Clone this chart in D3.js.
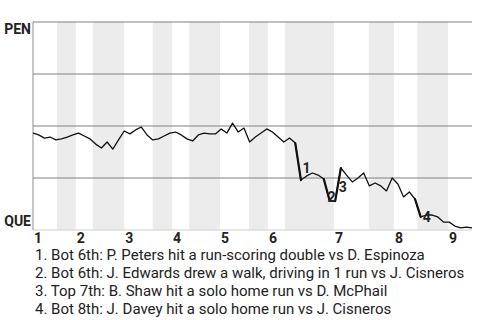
<!doctype html>
<html lang="en">
<head>
<meta charset="utf-8">
<title>Win probability</title>
<script src="https://cdn.jsdelivr.net/npm/d3@7"></script>
<style>
  body { margin: 0; background: #fff; }
  svg text { font-family: Roboto, "Noto Sans", sans-serif; fill: #222; }
  .inn { font-size: 14px; font-weight: bold; }
  .team { font-size: 14px; font-weight: bold; }
  .note { font-size: 15px; }
  .evt { font-size: 14px; font-weight: bold; }
</style>
</head>
<body>
<svg id="chart" width="480" height="320"></svg>
<script>
// PEN win probability (%) after each plate appearance
var penWinPct = [
  46.6, 45.7, 44.2, 44.7, 43.3, 43.8, 44.7, 45.7, 46.6, 45.2,
  43.8, 41.3, 39.4, 42.3, 38.9, 43.3, 47.6, 46.2, 48.1, 49.5,
  45.7, 43.3, 43.8, 45.2, 46.6, 47.1, 45.7, 43.8, 42.8, 45.7,
  46.6, 46.2, 46.2, 48.6, 46.6, 51.4, 47.1, 49.0, 42.3, 44.7,
  46.6, 48.6, 47.1, 44.7, 42.3, 44.2, 41.8, 24.0, 26.0, 27.4,
  26.4, 24.5, 14.4, 13.9, 29.8, 26.4, 23.1, 25.0, 27.4, 21.2,
  22.6, 21.2, 18.8, 25.0, 22.1, 15.9, 18.3, 14.9, 6.3, 7.2,
  7.2, 6.3, 3.8, 3.8, 1.9, 1.0, 1.4, 1.0
];

// start of each half inning, in plate appearances (top 1st .. top 9th), and game end
var halfStarts = [0, 4.2, 7.5, 10.5, 16, 21, 24.4, 27.4, 32.8, 37.9, 41.2, 44.2, 52.8, 58.9, 63.3, 67.4, 72.8];
var gameEnd = 77;
var innings = [1, 2, 3, 4, 5, 6, 7, 8, 9];

var teams = ["PEN", "QUE"];
var pctTicks = [0, 25, 50, 75, 100];

// key events: plate appearance index and description
var eventIdx = [47, 52, 54, 68];
var eventText = [
  "Bot 6th: P. Peters hit a run-scoring double vs D. Espinoza",
  "Bot 6th: J. Edwards drew a walk, driving in 1 run vs J. Cisneros",
  "Top 7th: B. Shaw hit a solo home run vs D. McPhail",
  "Bot 8th: J. Davey hit a solo home run vs J. Cisneros"
];

var svg = d3.select("#chart");
var plotL = 33, plotR = 472, plotT = 22, plotB = 230;

var x = d3.scaleLinear().domain([0, gameEnd]).range([plotL, plotR]);
var y = d3.scaleLinear().domain([0, 100]).range([plotB, plotT]);

// shaded bottom halves
var halves = halfStarts.map(function(s, i) {
  return { start: s, end: i + 1 < halfStarts.length ? halfStarts[i + 1] : gameEnd, bot: i % 2 == 1 };
});
svg.append("g").selectAll("rect")
  .data(halves.filter(function(d) { return d.bot; }))
  .enter().append("rect")
    .attr("x", function(d) { return x(d.start); })
    .attr("width", function(d) { return x(d.end) - x(d.start); })
    .attr("y", plotT)
    .attr("height", plotB - plotT)
    .attr("fill", "#ececec");

// grid lines
svg.append("g").selectAll("line")
  .data(pctTicks.filter(function(t) { return t > 0; }))
  .enter().append("line")
    .attr("x1", plotL).attr("x2", plotR)
    .attr("y1", function(d) { return y(d); })
    .attr("y2", function(d) { return y(d); })
    .attr("stroke", "#808080")
    .attr("stroke-width", 1.2);

svg.append("line")
  .attr("x1", plotL).attr("x2", plotR)
  .attr("y1", y(0)).attr("y2", y(0))
  .attr("stroke", "#cfcfcf").attr("stroke-width", 1.2);
svg.append("line")
  .attr("x1", plotL).attr("x2", plotL)
  .attr("y1", y(100)).attr("y2", y(0))
  .attr("stroke", "#a0a0a0").attr("stroke-width", 1.2);

// team labels
svg.append("text").attr("class", "team")
  .attr("x", plotL - 2).attr("y", y(100) + 12)
  .attr("text-anchor", "end").text(teams[0]);
svg.append("text").attr("class", "team")
  .attr("x", plotL - 2).attr("y", y(0) - 4)
  .attr("text-anchor", "end").text(teams[1]);

// inning labels
svg.append("g").selectAll("text")
  .data(innings)
  .enter().append("text")
    .attr("class", "inn")
    .attr("x", function(d) { return x(halfStarts[(d - 1) * 2]) + 1; })
    .attr("y", plotB + 13)
    .text(function(d) { return d; });

// win probability line
var line = d3.line()
  .x(function(d, i) { return x(i); })
  .y(function(d) { return y(d); });

svg.append("path")
  .datum(penWinPct)
  .attr("d", line)
  .attr("fill", "none")
  .attr("stroke", "#111")
  .attr("stroke-width", 1.3)
  .attr("stroke-linejoin", "round");

// heavier segments for key events
svg.append("g").selectAll("line")
  .data(eventIdx)
  .enter().append("line")
    .attr("x1", function(d) { return x(d - 1); })
    .attr("y1", function(d) { return y(penWinPct[d - 1]); })
    .attr("x2", function(d) { return x(d); })
    .attr("y2", function(d) { return y(penWinPct[d]); })
    .attr("stroke", "#111")
    .attr("stroke-width", 2.2)
    .attr("stroke-linecap", "round");

// event numbers
var labelOffset = [[5.5, -12], [2, -3], [2, 19], [6, 0]];
svg.append("g").selectAll("text")
  .data(eventIdx)
  .enter().append("text")
    .attr("class", "evt")
    .attr("text-anchor", "middle")
    .attr("dominant-baseline", "central")
    .attr("x", function(d, i) { return x(d) + labelOffset[i][0]; })
    .attr("y", function(d, i) { return y(penWinPct[d]) + labelOffset[i][1]; })
    .text(function(d, i) { return i + 1; });

// event notes
svg.append("g").selectAll("text")
  .data(eventText)
  .enter().append("text")
    .attr("class", "note")
    .attr("x", 35)
    .attr("y", function(d, i) { return 260 + i * 18; })
    .text(function(d, i) { return (i + 1) + ". " + d; });
</script>
</body>
</html>
